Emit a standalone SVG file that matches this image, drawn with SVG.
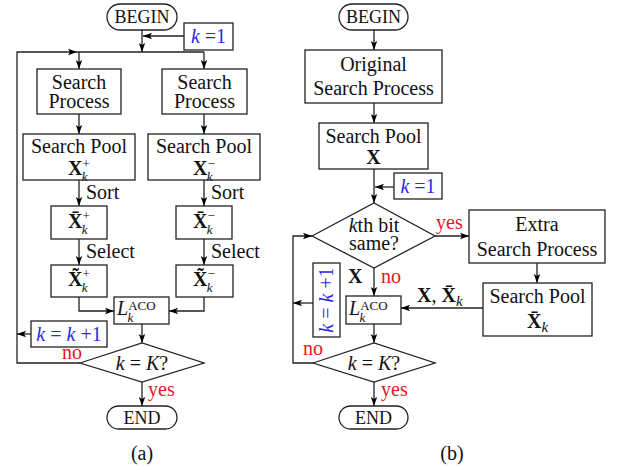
<svg xmlns="http://www.w3.org/2000/svg" width="619" height="468" viewBox="0 0 619 468" font-family="'Liberation Serif', 'Times New Roman', serif">
<defs>
<marker id="ah" markerWidth="10" markerHeight="8" refX="9" refY="4" orient="auto" markerUnits="userSpaceOnUse">
<path d="M0,0.8 L9,4 L0,7.2 L2,4 Z" fill="#000"/>
</marker>
<style>
.box{fill:#fff;stroke:#222;stroke-width:1.3}
.ln{fill:none;stroke:#222;stroke-width:1.3}
.ar{fill:none;stroke:#222;stroke-width:1.3;marker-end:url(#ah)}
text{font-family:"Liberation Serif","Times New Roman",serif;font-size:20px;fill:#111}
.c{text-anchor:middle}
.it{font-style:italic}
.b{font-weight:bold}
.blue{fill:#2a2ae6}
.red{fill:#e8161e}
.sm{font-size:13px}
.cap{font-size:18px}
</style>
</defs>
<rect width="619" height="468" fill="#fff"/>

<g id="connectors">
<!-- panel a -->
<line class="ar" x1="142" y1="30" x2="142" y2="52"/>
<line class="ar" x1="184" y1="36" x2="143" y2="36"/>
<polyline class="ar" points="80,363 17,363 17,52 77,52"/>
<line class="ln" x1="77" y1="52" x2="204" y2="52"/>
<line class="ar" x1="79" y1="52" x2="79" y2="69"/>
<line class="ar" x1="204" y1="52" x2="204" y2="69"/>
<line class="ar" x1="79" y1="114" x2="79" y2="134"/>
<line class="ar" x1="204" y1="114" x2="204" y2="134"/>
<line class="ar" x1="79" y1="180" x2="79" y2="206"/>
<line class="ar" x1="204" y1="180" x2="204" y2="206"/>
<line class="ar" x1="79" y1="239" x2="79" y2="265"/>
<line class="ar" x1="204" y1="239" x2="204" y2="265"/>
<polyline class="ar" points="79,297 79,311 114,311"/>
<polyline class="ar" points="204,297 204,311 169,311"/>
<line class="ar" x1="142" y1="324" x2="142" y2="343"/>
<line class="ar" x1="31" y1="334" x2="17" y2="334"/>
<line class="ar" x1="142" y1="382" x2="142" y2="406"/>
<!-- panel b -->
<line class="ar" x1="374" y1="30" x2="374" y2="50"/>
<line class="ar" x1="374" y1="103" x2="374" y2="123"/>
<line class="ar" x1="374" y1="169" x2="374" y2="203"/>
<line class="ar" x1="394" y1="187" x2="375" y2="187"/>
<line class="ar" x1="435" y1="236" x2="469" y2="236"/>
<line class="ar" x1="537" y1="263" x2="537" y2="283"/>
<line class="ar" x1="483" y1="308" x2="401" y2="308"/>
<line class="ar" x1="374" y1="268" x2="374" y2="296"/>
<line class="ar" x1="313" y1="303" x2="293" y2="303"/>
<polyline class="ar" points="313,363 293,363 293,236 312,236"/>
<line class="ar" x1="374" y1="324" x2="374" y2="343"/>
<line class="ar" x1="374" y1="382" x2="374" y2="406"/>
</g>

<!-- connector labels -->
<g id="labels">
<text x="86" y="199">Sort</text>
<text x="211" y="199">Sort</text>
<text x="86" y="258">Select</text>
<text x="211" y="258">Select</text>
<text class="red" x="62" y="359">no</text>
<text class="red" x="148" y="396">yes</text>
<text class="red" x="436" y="229">yes</text>
<text class="b" x="348" y="283">X</text>
<text class="red" x="381" y="283">no</text>
<text x="417" y="302"><tspan class="b">X</tspan>, <tspan class="b">X̄</tspan><tspan class="it" font-size="15" dy="4">k</tspan></text>
<text class="red" x="303" y="355">no</text>
<text class="red" x="381" y="396">yes</text>
</g>

<!-- panel a nodes -->
<g id="a-begin"><rect class="box" x="107" y="4" width="70" height="26" rx="13"/><text class="c cap" x="142" y="23">BEGIN</text></g>
<g id="a-k1"><rect class="box" x="184" y="23" width="49" height="27"/><text class="c blue" x="208.5" y="43"><tspan class="it">k</tspan> =1</text></g>
<g id="a-sp-plus"><rect class="box" x="37" y="69" width="84" height="45"/><text class="c" x="79" y="89">Search</text><text class="c" x="79" y="108">Process</text></g>
<g id="a-sp-minus"><rect class="box" x="162" y="69" width="85" height="45"/><text class="c" x="204.5" y="89">Search</text><text class="c" x="204.5" y="108">Process</text></g>
<g id="a-pool-plus"><rect class="box" x="23" y="134" width="112" height="46"/><text class="c" x="79" y="153">Search Pool</text><text x="68" y="175"><tspan class="b">X</tspan><tspan class="sm" dy="-7">+</tspan><tspan class="it sm" dx="-8" dy="13">k</tspan></text></g>
<g id="a-pool-minus"><rect class="box" x="148" y="134" width="112" height="46"/><text class="c" x="204" y="153">Search Pool</text><text x="193" y="175"><tspan class="b">X</tspan><tspan class="sm" dy="-7">−</tspan><tspan class="it sm" dx="-8" dy="13">k</tspan></text></g>
<g id="a-sort-plus"><rect class="box" x="51" y="206" width="56" height="33"/><text x="68" y="228"><tspan class="b">X̄</tspan><tspan class="sm" dy="-8">+</tspan><tspan class="it sm" dx="-8" dy="14">k</tspan></text></g>
<g id="a-sort-minus"><rect class="box" x="176" y="206" width="56" height="33"/><text x="193" y="228"><tspan class="b">X̄</tspan><tspan class="sm" dy="-8">−</tspan><tspan class="it sm" dx="-8" dy="14">k</tspan></text></g>
<g id="a-sel-plus"><rect class="box" x="51" y="265" width="56" height="32"/><text x="68" y="286"><tspan class="b">X̃</tspan><tspan class="sm" dy="-8">+</tspan><tspan class="it sm" dx="-8" dy="14">k</tspan></text></g>
<g id="a-sel-minus"><rect class="box" x="176" y="265" width="57" height="32"/><text x="193" y="286"><tspan class="b">X̃</tspan><tspan class="sm" dy="-8">−</tspan><tspan class="it sm" dx="-8" dy="14">k</tspan></text></g>
<g id="a-laco"><rect class="box" x="114" y="297" width="55" height="27"/><text x="117" y="315"><tspan class="it">L</tspan><tspan class="sm" dy="-5">ACO</tspan><tspan class="it sm" dx="-28" dy="12">k</tspan></text></g>
<g id="a-kinc"><rect class="box" x="31" y="321" width="76" height="26"/><text class="c blue" x="69" y="341"><tspan class="it">k</tspan> = <tspan class="it">k</tspan> +1</text></g>
<g id="a-cond"><polygon class="box" points="80,363 142,343 204,363 142,382"/><text class="c" x="142" y="370"><tspan class="it">k</tspan> = <tspan class="it">K</tspan>?</text></g>
<g id="a-end"><rect class="box" x="107" y="406" width="70" height="23" rx="11.5"/><text class="c cap" x="142" y="424">END</text></g>
<text class="c" x="142" y="460">(a)</text>

<!-- panel b nodes -->
<g id="b-begin"><rect class="box" x="339" y="4" width="69" height="26" rx="13"/><text class="c cap" x="373.5" y="23">BEGIN</text></g>
<g id="b-orig"><rect class="box" x="305" y="50" width="137" height="53"/><text class="c" x="373.5" y="71">Original</text><text class="c" x="373.5" y="95">Search Process</text></g>
<g id="b-pool"><rect class="box" x="319" y="123" width="109" height="46"/><text class="c" x="373.5" y="143">Search Pool</text><text class="c b" x="373.5" y="164">X</text></g>
<g id="b-k1"><rect class="box" x="394" y="173" width="48" height="26"/><text class="c blue" x="418" y="193"><tspan class="it">k</tspan> =1</text></g>
<g id="b-bit"><polygon class="box" points="312,236 374,203 435,236 374,268"/><text class="c" x="374" y="232"><tspan class="it">k</tspan>th bit</text><text class="c" x="374" y="250">same?</text></g>
<g id="b-extra"><rect class="box" x="469" y="210" width="136" height="53"/><text class="c" x="537" y="231">Extra</text><text class="c" x="537" y="256">Search Process</text></g>
<g id="b-pool2"><rect class="box" x="483" y="283" width="109" height="53"/><text class="c" x="537.5" y="303">Search Pool</text><text x="527" y="328"><tspan class="b">X̄</tspan><tspan class="it" font-size="15" dy="4">k</tspan></text></g>
<g id="b-laco"><rect class="box" x="346" y="296" width="55" height="28"/><text x="349" y="315"><tspan class="it">L</tspan><tspan class="sm" dy="-5">ACO</tspan><tspan class="it sm" dx="-28" dy="12">k</tspan></text></g>
<g id="b-kinc"><rect class="box" x="313" y="263" width="27" height="74"/><text class="c blue" transform="translate(333,300) rotate(-90)"><tspan class="it">k</tspan> = <tspan class="it">k</tspan> +1</text></g>
<g id="b-cond"><polygon class="box" points="313,363 374,343 435,363 374,382"/><text class="c" x="374" y="370"><tspan class="it">k</tspan> = <tspan class="it">K</tspan>?</text></g>
<g id="b-end"><rect class="box" x="339" y="406" width="69" height="23" rx="11.5"/><text class="c cap" x="373.5" y="424">END</text></g>
<text class="c" x="452" y="460">(b)</text>
</svg>
